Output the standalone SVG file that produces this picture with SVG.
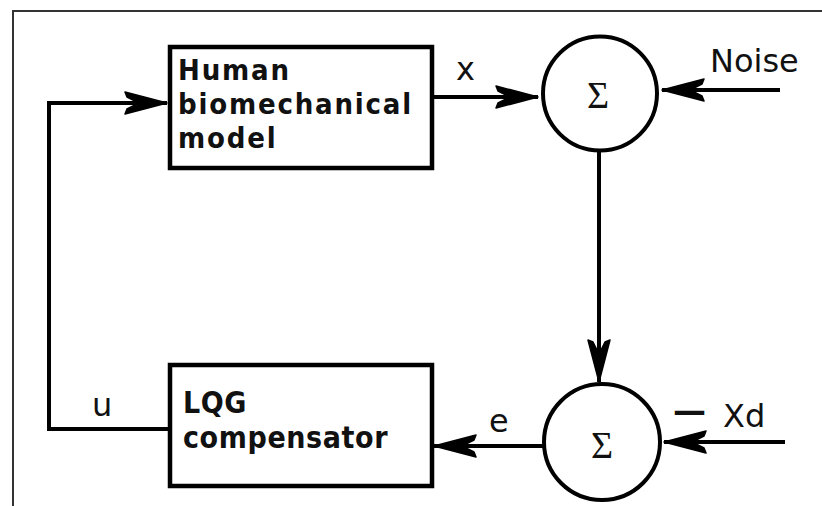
<svg xmlns="http://www.w3.org/2000/svg" width="822" height="506" viewBox="0 0 822 506">
  <style>
    .frame { fill: none; stroke: #333; stroke-width: 2; }
    .box { fill: #fff; stroke: #000; stroke-width: 4.5; }
    .sum { fill: #fff; stroke: #000; stroke-width: 4; }
    .arrow { fill: none; stroke: #000; stroke-width: 4; marker-end: url(#ah); }
    .boxtext { font-family: "DejaVu Sans Condensed", "DejaVu Sans", sans-serif; font-weight: bold; fill: #111; }
    .lbl { font-family: "DejaVu Sans", sans-serif; font-size: 32px; fill: #111; }
    .sigma { font-family: "Liberation Serif", serif; font-size: 38px; fill: #111; text-anchor: middle; }
  </style>
  <defs>
    <marker id="ah" markerUnits="userSpaceOnUse" markerWidth="50" markerHeight="30" viewBox="-46 -15 50 30" refX="0" refY="0" orient="auto">
      <path d="M0,0 L-42,-11 L-40,-6 L-28,0 L-40,6 L-42,11 Z" fill="#000" stroke="#000" stroke-width="1.5" stroke-linejoin="round"/>
    </marker>
  </defs>
  <rect width="822" height="506" fill="#fff"/>
  <path class="frame" d="M13,506 L13,11 L822,11"/>

  <g id="connectors">
    <line class="arrow" x1="433" y1="97" x2="538" y2="97"/>
    <line class="arrow" x1="780" y1="90" x2="662" y2="90"/>
    <line class="arrow" x1="599" y1="152" x2="599" y2="382"/>
    <line class="arrow" x1="785" y1="442" x2="664" y2="442"/>
    <line class="arrow" x1="543" y1="446" x2="434" y2="446"/>
    <path class="arrow" d="M170,429 L49,429 L49,103 L167,103"/>
  </g>

  <g id="human-model">
    <rect class="box" x="170" y="47" width="262" height="121"/>
    <text class="boxtext" x="178" y="80" style="font-size:29px;letter-spacing:1.8px"><tspan x="178" y="80">Human</tspan><tspan x="178" y="114">biomechanical</tspan><tspan x="178" y="148">model</tspan></text>
  </g>

  <g id="lqg">
    <rect class="box" x="170" y="365" width="262" height="121"/>
    <text class="boxtext" x="183" y="413" style="font-size:30px;letter-spacing:0.6px"><tspan x="183" y="413">LQG</tspan><tspan x="183" y="448">compensator</tspan></text>
  </g>

  <g id="sum-top">
    <circle class="sum" cx="600" cy="93.5" r="57"/>
    <text class="sigma" x="598" y="108">Σ</text>
  </g>

  <g id="sum-bottom">
    <circle class="sum" cx="602" cy="442" r="58"/>
    <text class="sigma" x="602" y="458">Σ</text>
  </g>

  <g id="labels">
    <text class="lbl" x="456" y="80">x</text>
    <text class="lbl" x="710" y="72">Noise</text>
    <text class="lbl" x="92" y="416">u</text>
    <text class="lbl" x="489" y="432">e</text>
    <text class="lbl" x="673" y="422" style="font-weight:bold;font-size:33px">—</text>
    <text class="lbl" x="723" y="427">Xd</text>
  </g>
</svg>
